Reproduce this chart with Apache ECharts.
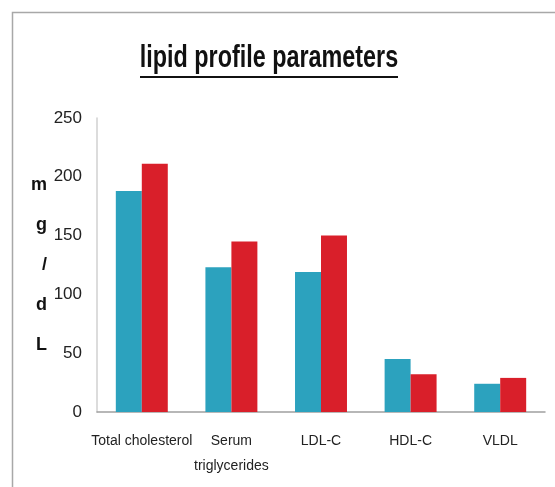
<!DOCTYPE html>
<html>
<head>
<meta charset="utf-8">
<script src="https://cdn.jsdelivr.net/npm/echarts@6/dist/echarts.min.js"></script>
<style>
    html, body { margin: 0; padding: 0; background: #fff; }
    #chart { width: 555px; height: 487px; }
</style>
</head>
<body>
<div id="chart"></div>
<script>
// 图表数据
const categories = ['Total cholesterol', 'Serum\ntriglycerides', 'LDL-C', 'HDL-C', 'VLDL'];
const seriesA = [188, 123, 119, 45, 24];
const seriesB = [211, 145, 150, 32, 29];
const yTicks = [0, 50, 100, 150, 200, 250];

const fontMain = '"Liberation Sans", Arial, sans-serif';

const chart = echarts.init(document.getElementById('chart'));
chart.setOption({
    animation: false,
    graphic: [
        {
            // 外框
            type: 'rect',
            shape: { x: 12.5, y: 12.5, width: 700, height: 700 },
            style: { fill: 'none', stroke: '#a8a8a8', lineWidth: 1.5 }
        },
        {
            type: 'text',
            x: 269,
            y: 58,
            scaleX: 0.73,
            style: {
                text: 'lipid profile parameters',
                font: 'bold 32px ' + fontMain,
                fill: '#111',
                align: 'center',
                verticalAlign: 'middle'
            }
        },
        {
            // 标题下划线
            type: 'line',
            shape: { x1: 140, y1: 77, x2: 398, y2: 77 },
            style: { stroke: '#111', lineWidth: 2 }
        }
    ],
    grid: {
        left: 97,
        right: 10,
        top: 118,
        bottom: 75
    },
    xAxis: {
        type: 'category',
        data: categories,
        axisLine: { lineStyle: { color: '#a0a0a0', width: 1.5 } },
        axisTick: { show: false },
        axisLabel: {
            color: '#222',
            fontSize: 14,
            fontFamily: fontMain,
            margin: 17,
            lineHeight: 25,
            interval: 0
        }
    },
    yAxis: {
        type: 'value',
        min: yTicks[0],
        max: yTicks[yTicks.length - 1],
        interval: yTicks[1] - yTicks[0],
        name: 'm\ng\n/\nd\nL',
        nameLocation: 'middle',
        nameRotate: 0,
        nameGap: 50,
        nameTextStyle: {
            fontSize: 18,
            fontWeight: 'bold',
            fontFamily: fontMain,
            color: '#111',
            lineHeight: 40,
            padding: [16, 0, 0, 0]
        },
        axisLine: { show: true, lineStyle: { color: '#d0d0d0', width: 1.5 } },
        axisTick: { show: false },
        splitLine: { show: false },
        axisLabel: {
            color: '#222',
            fontSize: 17,
            fontFamily: fontMain,
            margin: 15
        }
    },
    series: [
        {
            type: 'bar',
            data: seriesA,
            barWidth: '29%',
            barGap: '0%',
            itemStyle: { color: '#2ca2be' }
        },
        {
            type: 'bar',
            data: seriesB,
            barWidth: '29%',
            barGap: '0%',
            itemStyle: { color: '#d91f2a' }
        }
    ]
});

window.addEventListener('resize', function () {
    chart.resize();
});
</script>
</body>
</html>
